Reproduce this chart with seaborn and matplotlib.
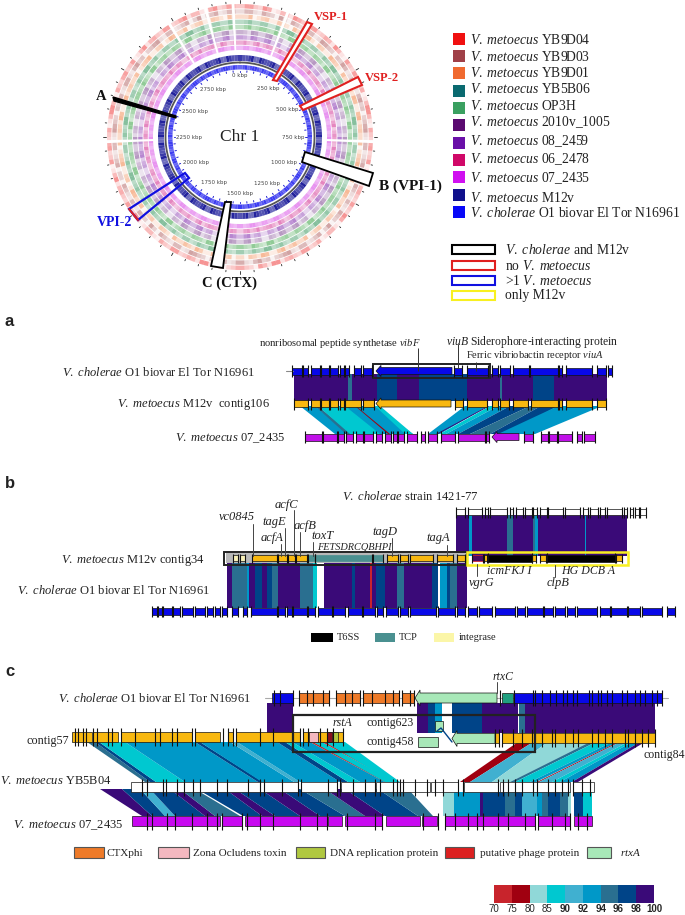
import numpy as np
import seaborn as sns
from matplotlib import pyplot as plt
from matplotlib.colors import ListedColormap
from matplotlib.patches import Polygon, Rectangle

# --- circular map: one digit per 4 degree sector, outer track first
track_names = ['YB9D04', 'YB9D03', 'YB9D01', 'YB5B06', 'OP3H', '2010v_1005', '08_2459', '06_2478', '07_2435']
track_colors = ['#ee2020', '#a04040', '#f0702a', '#1f8a4a', '#35a040', '#6a2a80', '#7a20a8', '#d0208a', '#d020e0']
track_digits = [
    '473625847362514736285146372854' '736251473628514637285473625184' '362514736285146372854736251847',
    '362514736285146372854736251473' '625147362851463728547362518473' '251473628514637285473625184736',
    '473625147362851463728547362518' '473625147362851463728547362514' '736285146372854736251847362514',
    '585746958574695847569584756958' '475695847569584756958475695847' '569584756958475695847569584756',
    '596857496857495968574968574959' '685749685749596857496857495968' '574968574959685749685749596857',
    '637485263748526374852637485263' '748526374852637485263748526374' '852637485263748526374852637485',
    '748596374859637485963748596374' '859637485963748596374859637485' '963748596374859637485963748596',
    '657486957486576948657486957486' '576948657486957486576948657486' '957486576948657486957486576948',
    '576857685768576857685768576857' '685768576857685768576857685768' '576857685768576857685768576857',
]
gap_degrees = [357, 21, 92, 268, 328, 345]
m12v_digits = '879687968796879687968796879687' '968796879687968796879687968796' '879687968796879687968796879687'
n16961_digits = '798978979897897989789798978979' '897897989789798978979897897989' '789798978979897897989789798978'
kbp_labels = [0, 250, 500, 750, 1000, 1250, 1500, 1750, 2000, 2250, 2500, 2750]
kbp_radius = [61, 56, 54, 53, 51, 54, 57, 53, 51, 51, 52, 55]
genome_kbp = 3000

legend_strains = ['YB9D04', 'YB9D03', 'YB9D01', 'YB5B06', 'OP3H', '2010v_1005', '08_2459', '06_2478', '07_2435', 'M12v']
legend_colors = ['#f01010', '#a04048', '#f06a30', '#0a6a70', '#3aa060', '#5a0a70', '#6a10a8', '#d00868', '#d010f0', '#10108c', '#0808f8']
legend_swatch_y = [39, 56, 73, 91, 108, 125, 143, 160, 177, 195, 212]
legend_text_y = [40, 57, 73, 89, 106, 122, 141, 159, 178, 198, 213]
box_labels = [r'$\mathit{V.\ cholerae}$ and M12v', r'no $\mathit{V.\ metoecus}$', r'>1 $\mathit{V.\ metoecus}$', 'only M12v']
box_colors = ['black', '#e02020', '#1010e0', '#f8f020']
box_y = [249, 265, 280, 295]

# --- identity scale
scale_edges = [70, 75, 80, 85, 90, 92, 94, 96, 98, 100]
scale_colors = ['#c8242c', '#a00010', '#90d8d8', '#00c8d0', '#40b0d0', '#0098c8', '#2a6f90', '#004488', '#3a0a78']
identity = dict(zip(scale_edges[:-1], scale_colors))

# --- panel a
a_blue = [(292, 302), (303, 308), (311, 320), (321, 329), (330, 338), (340, 344), (345, 349), (354, 361), (363, 372),
          (454, 462), (467, 488), (492, 498), (500, 510), (513, 529), (530, 558), (559, 562), (566, 592), (597, 606), (608, 612)]
a_blue_arrow = (376, 452)
a_yellow = [(294, 308), (311, 320), (321, 329), (330, 338), (340, 344), (345, 361), (363, 374), (455, 463), (467, 487),
            (492, 498), (500, 509), (513, 528), (531, 558), (559, 562), (566, 592), (597, 606)]
a_yellow_arrow = (376, 451)
a_magenta = [(305, 322), (323, 337), (338, 344), (346, 353), (356, 363), (364, 373), (376, 382), (385, 391), (393, 397),
             (398, 404), (407, 417), (421, 425), (428, 437), (441, 455), (458, 485), (486, 489), (524, 533), (541, 548),
             (549, 557), (558, 572), (577, 582), (584, 595)]
a_magenta_arrow = (492, 519)
a_top_links = [(294, 348, 98), (348, 352, 94), (352, 377, 98), (377, 397, 96), (397, 419, 98), (419, 467, 96),
               (467, 500, 98), (500, 502, 94), (502, 533, 98), (533, 554, 96), (554, 607, 98)]
a_low_links = [(300, 315, 335, 350, 92), (315, 318, 346, 352, 94), (318, 345, 350, 388, 85), (345, 375, 380, 413, 92),
               (375, 380, 405, 413, 85), (355, 356, 388, 390, 75), (465, 488, 428, 440, 92), (488, 490, 436, 438, 98),
               (490, 498, 440, 446, 85), (498, 510, 446, 458, 92), (510, 530, 458, 470, 96), (530, 541, 470, 490, 94),
               (541, 558, 490, 505, 96), (558, 602, 498, 535, 92)]

# --- panel b
b_white = [(456, 465), (468, 482), (485, 488), (490, 507), (510, 513), (516, 523), (525, 532), (533, 537), (540, 547), (548, 563),
           (565, 580), (583, 588), (590, 598), (600, 605), (607, 622), (624, 627), (630, 633), (635, 639), (640, 646)]
b_yellow = [(252, 277), (278, 287), (288, 295), (296, 307), (387, 398), (400, 408), (410, 433), (437, 453), (457, 465),
            (484, 487), (532, 536), (540, 546), (616, 622)]
b_pale = [(233, 238), (240, 245)]
b_tcp = [(308, 315), (315, 372), (373, 383)]
b_t6ss = [(488, 532), (547, 615)]
b_vgrg = (472, 483)
b_blue = [(152, 157), (158, 162), (163, 172), (173, 180), (182, 193), (195, 205), (207, 213), (215, 220), (222, 227), (232, 238),
          (243, 247), (251, 277), (278, 285), (287, 292), (293, 307), (308, 315), (318, 332), (333, 345), (348, 362), (363, 375),
          (377, 383), (386, 398), (400, 408), (410, 436), (438, 455), (457, 465), (468, 477), (479, 492), (495, 515), (517, 525),
          (527, 543), (544, 553), (555, 565), (567, 575), (577, 597), (600, 610), (611, 627), (628, 640), (642, 662), (667, 675)]
b_top_links = [(456, 469, 98), (469, 472, 92), (472, 507, 98), (507, 513, 94), (513, 533, 98), (533, 535, 94),
               (535, 538, 92), (538, 585, 98), (585, 586, 92), (586, 627, 98)]
b_low_links = [(227, 232, 98), (232, 247, 94), (247, 249, 92), (249, 255, 98), (255, 262, 96), (262, 267, 98), (267, 272, 96),
               (272, 278, 94), (278, 300, 98), (300, 313, 94), (313, 317, 85), (324, 352, 98), (352, 355, 96), (355, 370, 98),
               (370, 372, 70), (372, 376, 98), (376, 385, 96), (385, 397, 98), (397, 404, 94), (404, 432, 98), (432, 438, 96),
               (440, 447, 92), (447, 450, 96), (450, 457, 94), (457, 467, 98)]
b_leaders = [(253, 524, 556), (294, 510, 556), (285, 528, 556), (300, 532, 556), (313, 542, 556), (281, 544, 556),
             (392, 538, 556), (447, 545, 556), (477, 564, 576), (555, 565, 577)]
b_gene_names = ['vc0845', 'acfC', 'tagE', 'acfB', 'toxT', 'acfA', 'FETSDRCQBHPI', 'tagD', 'tagA', 'vgrG', 'icmFKJ I', 'HG DCB A', 'clpB']
b_gene_x = [237, 286, 274, 305, 323, 272, 354, 385, 438, 482, 509, 588, 558]
b_gene_y = [517, 505, 522, 526, 536, 538, 547, 532, 538, 583, 571, 571, 583]
b_gene_size = [9, 9, 9, 9, 9, 9, 7.4, 9, 9, 9, 8.6, 8.6, 9]

# --- panel c
c_blue = [(272, 293), (514, 662)]
c_blue_ticks = [274, 280, 293, 514, 533, 535, 542, 550, 556, 563, 567, 573, 577, 589, 592, 598, 601, 607, 612, 622, 627, 635, 640, 645, 652, 657, 662]
c_orange = [(299, 329), (336, 360), (363, 399), (402, 414)]
c_orange_ticks = [299, 307, 313, 323, 329, 336, 345, 352, 360, 363, 372, 385, 393, 399, 402, 410, 414]
c_mint_arrow = (415, 497)
c_teal = (502, 513)
c_yellow_left = [(72, 92), (93, 118), (121, 177), (177, 192), (195, 220), (228, 233), (236, 260), (260, 300), (303, 343)]
c_yellow_left_ticks = [75, 78, 83, 86, 93, 97, 108, 112, 121, 135, 155, 160, 172, 177, 192, 195, 223, 228, 233, 236, 260, 273, 300, 303, 308, 320, 327, 333, 343]
c_yellow_right = [(495, 499), (502, 655)]
c_yellow_right_ticks = [495, 499, 502, 513, 522, 532, 542, 552, 555, 565, 573, 578, 592, 598, 605, 612, 625, 628, 635, 642, 648, 655]
c_white = [(131, 298), (301, 337), (341, 375), (376, 430), (431, 458), (464, 498), (500, 570), (573, 594)]
c_white_ticks = [142, 147, 163, 166, 177, 184, 193, 200, 217, 227, 248, 260, 264, 282, 298, 301, 328, 337, 340, 353, 365, 375,
                 380, 393, 397, 400, 403, 415, 427, 435, 443, 458, 463, 498, 503, 508, 515, 522, 533, 537, 548, 555, 562, 568, 573, 582, 590]
c_magenta = [(132, 220), (222, 242), (245, 327), (328, 342), (345, 382), (386, 420), (422, 437), (445, 535), (538, 570), (574, 592)]
c_magenta_ticks = [147, 152, 167, 175, 192, 207, 217, 222, 242, 247, 260, 273, 300, 317, 327, 347, 375, 382, 423, 438, 445, 455,
                   468, 477, 483, 498, 508, 525, 535, 538, 552, 565, 570, 578, 587]
c_top_links = [(267, 293, 98), (417, 428, 98), (428, 435, 96), (435, 442, 92), (452, 463, 96), (463, 482, 96), (482, 518, 98),
               (519, 525, 94), (525, 655, 98)]
c_mid_links = [(87, 95, 145, 150, 94), (95, 99, 150, 156, 96), (99, 125, 156, 185, 85), (125, 195, 185, 258, 92),
               (195, 200, 258, 263, 96), (200, 230, 262, 294, 92), (230, 237, 294, 300, 90), (237, 277, 300, 340, 92),
               (277, 285, 340, 348, 96), (285, 292, 348, 360, 85), (292, 310, 360, 385, 92), (310, 313, 385, 394, 70),
               (313, 322, 385, 395, 85), (322, 325, 395, 398, 70), (325, 345, 392, 400, 85),
               (518, 533, 460, 470, 75), (533, 548, 470, 492, 90), (548, 590, 492, 510, 80), (590, 596, 510, 515, 94),
               (596, 612, 515, 530, 85), (612, 618, 530, 536, 92), (618, 620, 537, 539, 75), (620, 628, 539, 552, 90),
               (628, 632, 552, 560, 85), (632, 640, 560, 572, 92), (640, 645, 572, 578, 98)]
c_low_links = [(100, 122, 142, 152, 98), (122, 140, 152, 165, 96), (140, 150, 165, 175, 90), (150, 170, 175, 205, 96),
               (170, 180, 205, 215, 98), (180, 195, 215, 240, 94), (197, 225, 243, 262, 96), (225, 235, 262, 275, 98),
               (235, 260, 275, 300, 96), (260, 280, 300, 320, 98), (280, 300, 320, 345, 96), (300, 325, 345, 365, 94),
               (325, 345, 365, 385, 98), (345, 378, 385, 418, 96), (378, 408, 418, 433, 94)]
c_low_rects = [(443, 454, 80), (454, 480, 92), (480, 483, 98), (483, 505, 96), (505, 515, 94), (515, 522, 96), (522, 537, 90),
               (537, 542, 92), (542, 548, 94), (548, 560, 96), (560, 568, 94), (568, 571, 80), (574, 583, 96), (583, 592, 85)]
c_legend_names = ['CTXphi', 'Zona Ocludens toxin', 'DNA replication protein', 'putative phage protein', r'$\mathit{rtxA}$']
c_legend_colors = ['#ee7a28', '#f4b8c0', '#b0c840', '#dc2020', '#a8e8b8']
c_legend_x = [(74, 104), (158, 189), (296, 325), (445, 474), (587, 611)]
c_legend_text_x = [107, 193, 330, 480, 620]

sns.set_theme(style='white')
plt.rcParams['font.family'] = ['Liberation Serif', 'DejaVu Sans']
plt.rcParams['mathtext.fontset'] = 'custom'
plt.rcParams['mathtext.rm'] = 'Liberation Serif'
plt.rcParams['mathtext.it'] = 'Liberation Serif:italic'
plt.rcParams['mathtext.bf'] = 'Liberation Serif:bold'

W, H = 685, 915
fig = plt.figure(figsize=(W / 100, H / 100), dpi=100)
ax = fig.add_axes([0, 0, 1, 1])
ax.set_xlim(0, W)
ax.set_ylim(H, 0)
ax.axis('off')

# circular map on its own polar axes, radius in pixels
RMAX = 140
pol = fig.add_axes([(240 - RMAX) / W, 1 - (137 + RMAX) / H, 2 * RMAX / W, 2 * RMAX / H], projection='polar')
pol.set_theta_zero_location('N')
pol.set_theta_direction(-1)
pol.set_rlim(0, RMAX)
pol.axis('off')
pol.patch.set_alpha(0)
sector = np.deg2rad(4)


def ring(digits, color, bottom, height, scale):
    # each sector is split in two so the texture stays fine
    for i, d in enumerate(digits):
        d2 = digits[-i - 1]
        pol.bar(i * sector, height, width=sector / 2, bottom=bottom, color=color, alpha=int(d) * scale, linewidth=0, align='edge')
        pol.bar((i + 0.5) * sector, height, width=sector / 2, bottom=bottom, color=color, alpha=int(d2) * scale, linewidth=0, align='edge')


for k, digits in enumerate(track_digits):
    ring(digits, track_colors[k], 128.6 - k * 5.2, 4.4, 0.06)
ring(m12v_digits, '#20209c', 76, 6, 0.11)
ring(n16961_digits, '#2828f0', 67.5, 4.5, 0.1)
pol.bar(np.deg2rad(gap_degrees), 50, width=np.deg2rad(1.3), bottom=85, color='white', linewidth=0)
circle = np.linspace(0, 2 * np.pi, 200)
pol.plot(circle, np.full(200, 74.5), color='#555555', lw=1.3)
for kbp in range(0, genome_kbp, 50):
    th = kbp / genome_kbp * 2 * np.pi
    pol.plot([th, th], [134, 137 if kbp % 250 == 0 else 135.5], color='#222222', lw=0.6)
    pol.plot([th, th], [65, 66.5], color='#2020d0', lw=0.7)
for kbp, r in zip(kbp_labels, kbp_radius):
    th = kbp / genome_kbp * 2 * np.pi
    pol.text(th, r, f'{kbp} kbp', fontsize=4, color='#444444', family='DejaVu Sans', ha='center', va='center')
pol.text(0, 0, 'Chr 1', fontsize=12.5, ha='center', va='center', color='#222222')

# boxes over the map
ax.set_zorder(pol.get_zorder() + 1)
ax.patch.set_alpha(0)
ax.add_patch(Polygon([(307, 22), (312, 24), (277, 81), (273, 80)], fc='white', ec='#e02020', lw=1.5))
ax.add_patch(Polygon([(358, 77), (362, 85), (303, 110), (300, 106)], fc='white', ec='#e02020', lw=1.5))
ax.add_patch(Polygon([(305, 152), (373, 173), (369, 186), (302, 162)], fc='white', ec='black', lw=1.3))
ax.add_patch(Polygon([(225, 202), (231, 202), (223, 268), (211, 266)], fc='white', ec='black', lw=1.3))
ax.add_patch(Polygon([(185, 173), (189, 178), (138, 220), (129, 209)], fc='none', ec='#1010e0', lw=1.6))
ax.plot([129, 138], [209, 220], color='#e02020', lw=1.4)
ax.add_patch(Polygon([(113, 97), (114, 101), (176, 118), (176, 116)], fc='black', ec='black', lw=1))
for s, x, y, c, fs in [('VSP-1', 331, 17, '#e02020', 9), ('VSP-2', 382, 78, '#e02020', 9), ('A', 101, 96, '#111111', 10.5),
                       ('B (VPI-1)', 410, 186, '#111111', 11), ('C (CTX)', 230, 283, '#111111', 10.5), ('VPI-2', 115, 222, '#1010e0', 10)]:
    ax.text(x, y, s, color=c, fontsize=fs, fontweight='bold', ha='center', va='center')

# strain legend
for i, (c, ys, yt) in enumerate(zip(legend_colors, legend_swatch_y, legend_text_y)):
    ax.add_patch(Rectangle((453, ys - 6), 12, 12, fc=c, ec='none'))
    s = r'$\mathit{V.\ metoecus}$ ' + legend_strains[i] if i < 10 else r'$\mathit{V.\ cholerae}$ O1 biovar El Tor N16961'
    ax.text(470, yt, s, fontsize=9.8, va='center', color='#222222')
for s, c, y in zip(box_labels, box_colors, box_y):
    ax.add_patch(Rectangle((452, y - 4.5), 43, 9, fc='white', ec=c, lw=1.5))
    ax.text(505, y + 1, s, fontsize=9.8, va='center', color='#222222')


def straight(rows, y0, y1):
    for x0, x1, lev in rows:
        ax.fill([x0, x1, x1, x0], [y0, y0, y1, y1], color=identity[lev], lw=0)


def ribbons(rows, y0, y1):
    for x0, x1, x2, x3, lev in rows:
        ax.fill([x0, x1, x3, x2], [y0, y0, y1, y1], color=identity[lev], lw=0)


def genes(spans, y, h, color, ticks=None, over=2.5, edge='#111111'):
    for x0, x1 in spans:
        ax.add_patch(Rectangle((x0, y - h / 2), x1 - x0, h, fc=color, ec=edge, lw=0.5))
    if ticks is None:
        ticks = [x for s in spans for x in s]
    ax.vlines(ticks, y - h / 2 - over, y + h / 2 + over, color='#111111', lw=0.8)


def arrow(x0, x1, y, h, color, edge='#111111'):
    # gene drawn pointing left
    ax.add_patch(Polygon([(x1, y - h / 2), (x0 + 5, y - h / 2), (x0 + 5, y - h * 0.8), (x0, y), (x0 + 5, y + h * 0.8),
                          (x0 + 5, y + h / 2), (x1, y + h / 2)], fc=color, ec=edge, lw=0.5))


# panel a
straight(a_top_links, 374, 401)
ribbons(a_low_links, 406, 434)
ax.plot([286, 293], [371, 371], color='#888888', lw=0.8)
genes(a_blue, 371, 7, '#0808e8')
arrow(*a_blue_arrow, 371, 7, '#0808e8')
genes(a_yellow, 403.5, 7, '#f8b810')
arrow(*a_yellow_arrow, 403.5, 7, '#f8b810')
genes(a_magenta, 437, 7, '#c010e8')
arrow(*a_magenta_arrow, 437, 7, '#c010e8')
ax.add_patch(Rectangle((373, 364), 117, 14, fc='none', ec='#222222', lw=1.4))
ax.vlines([418, 458, 476], [348, 344, 362], [371, 368, 371], color='#333333', lw=0.7)
ax.text(259, 343, r'nonribosomal peptide synthetase $\mathit{vibF}$', fontsize=7.6, va='center', color='#222222')
ax.text(446, 342, r'$\mathit{viuB}$ Siderophore-interacting protein', fontsize=8.4, va='center', color='#222222')
ax.text(466, 356, r'Ferric vibriobactin receptor $\mathit{viuA}$', fontsize=7.5, va='center', color='#222222')
ax.text(62, 373, r'$\mathit{V.\ cholerae}$ O1 biovar El Tor N16961', fontsize=9, va='center', color='#222222')
ax.text(117, 405, r'$\mathit{V.\ metoecus}$ M12v  contig106', fontsize=9, va='center', color='#222222')
ax.text(175, 438, r'$\mathit{V.\ metoecus}$ 07_2435', fontsize=9, va='center', color='#222222')

# panel b
straight(b_top_links, 515, 556)
straight(b_low_links, 563, 608)
ax.add_patch(Rectangle((226, 553), 241, 10, fc='#b8b8b8', ec='none'))
genes(b_white, 512, 6, 'white')
genes(b_yellow, 558, 6, '#f8b810', over=1.5)
genes(b_pale, 558, 6, '#f8f0b8', over=1.5)
genes(b_tcp, 558, 6, '#4a9090', over=1.5, edge='#4a9090')
genes(b_t6ss, 558, 7, 'black', over=1.5)
genes([b_vgrg], 558, 6, '#4a0a60', over=1.5, edge='#e02020')
genes(b_blue, 611, 7, '#0808e8', over=2)
ax.add_patch(Rectangle((224, 552), 243, 13, fc='none', ec='#222222', lw=1.4))
ax.add_patch(Rectangle((467, 552), 161, 13, fc='none', ec='#f8f020', lw=1.8))
for x, y0, y1 in b_leaders:
    ax.plot([x, x], [y0, y1], color='#444444', lw=0.7)
for s, x, y, fs in zip(b_gene_names, b_gene_x, b_gene_y, b_gene_size):
    ax.text(x, y, s, fontsize=fs, style='italic', ha='center', va='center', color='#222222')
ax.text(342, 497, r'$\mathit{V.\ cholerae}$ strain 1421-77', fontsize=9, va='center', color='#222222')
ax.text(61, 561, r'$\mathit{V.\ metoecus}$ M12v contig34', fontsize=9, va='center', color='#222222')
ax.text(17, 591, r'$\mathit{V.\ cholerae}$ O1 biovar El Tor N16961', fontsize=9, va='center', color='#222222')
for s, x0, x1, c, tx in [('T6SS', 311, 333, 'black', 337), ('TCP', 375, 395, '#4a9090', 399), ('integrase', 434, 454, '#fbf6a8', 459)]:
    ax.add_patch(Rectangle((x0, 633), x1 - x0, 9, fc=c, ec='none'))
    ax.text(tx, 638, s, fontsize=7.5, va='center', color='#222222')

# panel c
straight(c_top_links, 703, 733)
ribbons(c_mid_links, 742, 782)
ribbons(c_low_links, 789, 816)
straight(c_low_rects, 792, 816)
ax.plot([265, 668], [698, 698], color='#aaaaaa', lw=0.8, zorder=1)
genes(c_blue, 698, 10, '#0808e8', c_blue_ticks, 3)
genes(c_orange, 698, 10, '#ee7a28', c_orange_ticks, 3)
arrow(*c_mint_arrow, 698, 10, '#a8e8b8')
genes([c_teal], 698, 10, '#20a080', [500], 3)
genes(c_yellow_left, 737, 10, '#f8b810', c_yellow_left_ticks, 4)
genes([(309, 318)], 737, 10, '#f4b8c0', [], 0)
genes([(327, 332)], 737, 10, '#8a1020', [], 0)
genes([(333, 338)], 737, 10, '#b0c840', [], 0)
genes(c_yellow_right, 738, 10, '#f8b810', c_yellow_right_ticks, 4)
genes([(435, 443)], 726, 10, '#a8e8b8', [], 0)
genes([(418, 438)], 742, 10, '#a8e8b8', [], 0)
arrow(452, 495, 738.5, 10, '#a8e8b8')
ax.plot([437, 441, 452], [731, 728, 742], color='#004488', lw=1)
genes(c_white, 787, 10, 'white', c_white_ticks, 3.5)
genes(c_magenta, 821, 10, '#c808f0', c_magenta_ticks, 3.5)
ax.add_patch(Rectangle((293, 715), 242, 37, fc='none', ec='#222222', lw=1.6))
ax.plot([497, 497], [682, 693], color='#444444', lw=0.7)
ax.text(58, 698, r'$\mathit{V.\ cholerae}$ O1 biovar El Tor N16961', fontsize=9, va='center', color='#222222')
ax.text(27, 741, 'contig57', fontsize=8.7, va='center', color='#222222')
ax.text(0, 781, r'$\mathit{V.\ metoecus}$ YB5B04', fontsize=9, va='center', color='#222222')
ax.text(13, 825, r'$\mathit{V.\ metoecus}$ 07_2435', fontsize=9, va='center', color='#222222')
ax.text(342, 723, 'rstA', fontsize=8.5, style='italic', ha='center', va='center', color='#222222')
ax.text(367, 723, 'contig623', fontsize=8.5, va='center', color='#222222')
ax.text(367, 742, 'contig458', fontsize=8.5, va='center', color='#222222')
ax.text(644, 755, 'contig84', fontsize=8.5, va='center', color='#222222')
ax.text(503, 677, 'rtxC', fontsize=8.5, style='italic', ha='center', va='center', color='#222222')
for s, c, (x0, x1), tx in zip(c_legend_names, c_legend_colors, c_legend_x, c_legend_text_x):
    ax.add_patch(Rectangle((x0, 847), x1 - x0, 11, fc=c, ec='#555555', lw=0.8))
    ax.text(tx, 853, s, fontsize=8, va='center', color='#222222')

# panel letters
for s, y in zip('abc', [321, 484, 672]):
    ax.text(5, y, s, fontsize=12, fontweight='bold', family='Liberation Sans', va='center', color='#222222')

# identity scale
cax = fig.add_axes([494 / W, 1 - 903 / H, 160 / W, 18 / H])
sns.heatmap(np.arange(9).reshape(1, 9), ax=cax, cmap=ListedColormap(scale_colors), cbar=False, yticklabels=False)
cax.set_xticks(range(10))
cax.set_xticklabels(scale_edges, rotation=0, fontsize=7, family='Liberation Sans')
for t, v in zip(cax.get_xticklabels(), scale_edges):
    if v >= 90:
        t.set_fontweight('bold')
cax.tick_params(axis='x', length=0, pad=1)

plt.savefig('out.png', dpi=100)
